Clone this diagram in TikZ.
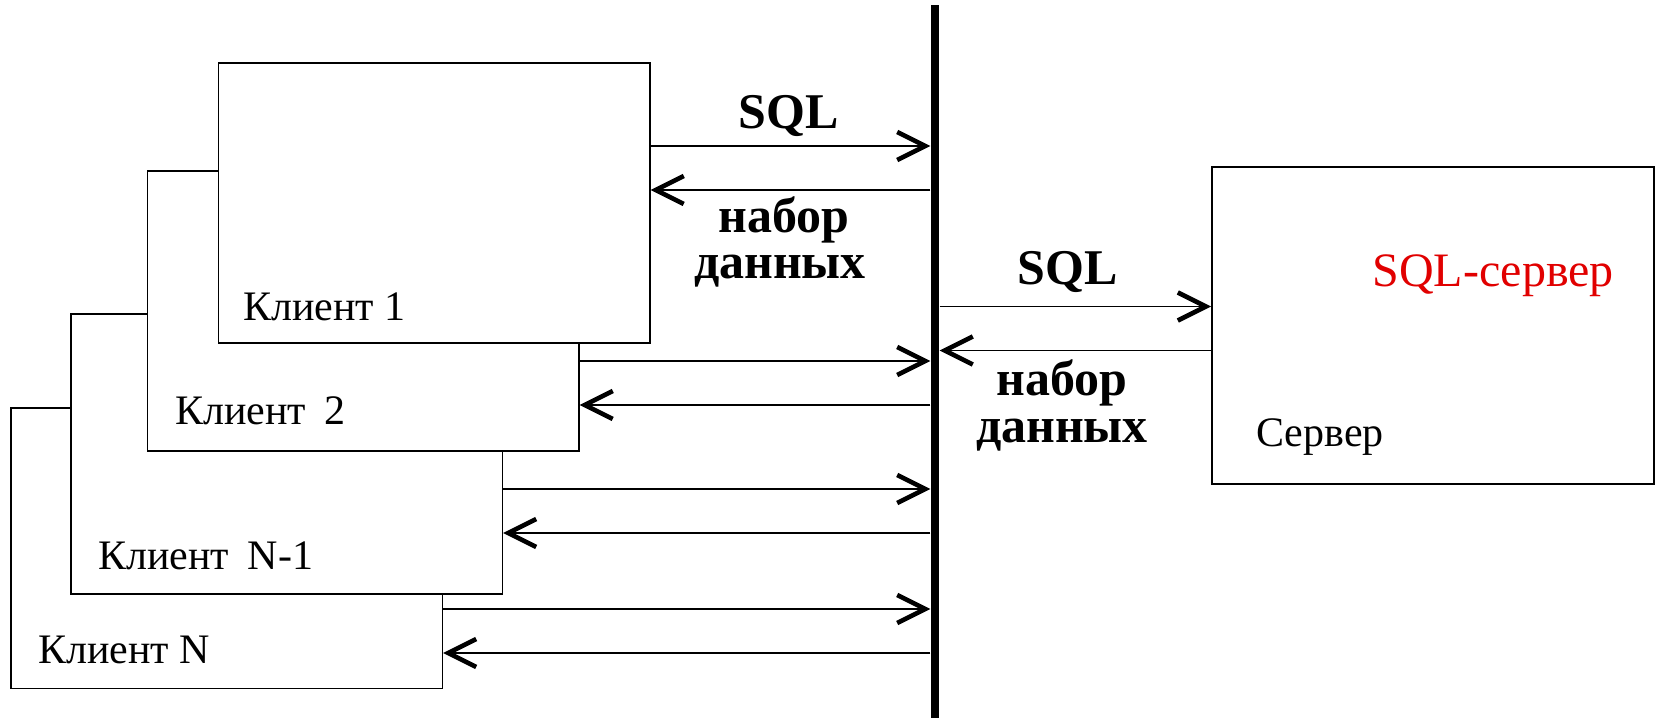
\documentclass[tikz,border=0pt]{standalone}
\usepackage{fontspec}
\setmainfont{Liberation Serif}
\usetikzlibrary{arrows.meta}
\definecolor{srvred}{RGB}{225,0,0}
\begin{document}
\begin{tikzpicture}[x=0.5pt,y=-0.5pt,
  box/.style={draw, line width=0.8pt, fill=white, rectangle, inner sep=0pt, anchor=north west, minimum width=215.75pt, minimum height=140pt},
  lbl/.style={anchor=base west, inner sep=0pt, font=\fontsize{21pt}{25pt}\selectfont},
  blbl/.style={anchor=base, inner sep=0pt, font=\fontsize{25pt}{28pt}\selectfont\bfseries},
  arr/.style={line width=0.8pt, -{Straight Barb[length=14pt,width=14pt,line width=2.3pt]}},
]
\useasboundingbox (0,0) rectangle (1655,721);
% client boxes, back to front
\node[box] (cN) at (10,407.5) {};
\node[box] (cN1) at (70,313) {};
\node[box] (c2) at (146.5,170) {};
\node[box] (c1) at (217.5,62) {};
% server box
\node[box, minimum width=221pt, minimum height=158.5pt] (srv) at (1211,166) {};
% bus
\node[fill=black, inner sep=0pt, minimum width=4.25pt, minimum height=356.5pt] (bus) at (935,361.5) {};
% client arrows
\draw[arr] (c1.east |- 0,146) -- (bus.west |- 0,146);
\draw[arr] (bus.west |- 0,190) -- (c1.east |- 0,190);
\draw[arr] (c2.east |- 0,361) -- (bus.west |- 0,361);
\draw[arr] (bus.west |- 0,405) -- (c2.east |- 0,405);
\draw[arr] (cN1.east |- 0,489) -- (bus.west |- 0,489);
\draw[arr] (bus.west |- 0,533) -- (cN1.east |- 0,533);
\draw[arr] (cN.east |- 0,609) -- (bus.west |- 0,609);
\draw[arr] (bus.west |- 0,653) -- (cN.east |- 0,653);
% server arrows
\draw[arr] (bus.east |- 0,306.5) -- (srv.west |- 0,306.5);
\draw[arr] (srv.west |- 0,350.5) -- (bus.east |- 0,350.5);
% labels
\node[blbl] (sql1) at (789,129) {SQL};
\node[blbl] (nab1) at (784,233) {набор};
\node[blbl] (dan1) at (780,279) {данных};
\node[blbl] (sql2) at (1068,285) {SQL};
\node[blbl] (nab2) at (1062,396) {набор};
\node[blbl] (dan2) at (1062,443) {данных};
\node[lbl, text=srvred, font=\fontsize{24pt}{28pt}\selectfont] (srvname) at (1372,287) {SQL-сервер};
\node[lbl] (srvlbl) at (1256,447) {Сервер};
\node[lbl] (l1) at (243,321) {Клиент 1};
\node[lbl] (l2) at (175,425) {Клиент\hspace{4pt} 2};
\node[lbl] (lN1) at (98,569) {Клиент\hspace{4pt} N-1};
\node[lbl] (lN) at (38,663) {Клиент N};
\end{tikzpicture}
\end{document}
